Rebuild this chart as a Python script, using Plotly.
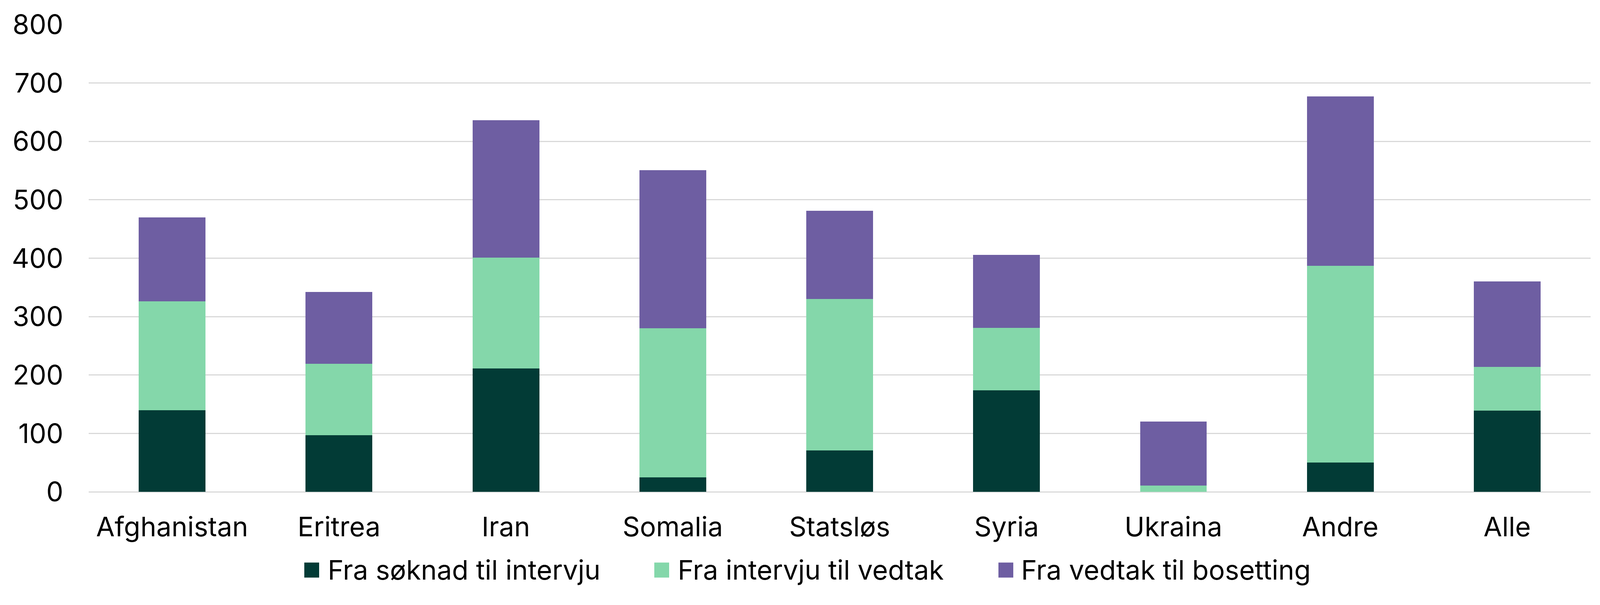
import plotly.graph_objects as go

categories = ["Afghanistan", "Eritrea", "Iran", "Somalia", "Statsløs", "Syria", "Ukraina", "Andre", "Alle"]
series_names = ["Fra søknad til intervju", "Fra intervju til vedtak", "Fra vedtak til bosetting"]
soknad_intervju = [140, 97, 211, 25, 71, 174, 0, 50, 139]
intervju_vedtak = [186, 122, 190, 255, 259, 107, 11, 337, 75]
vedtak_bosetting = [144, 123, 235, 271, 151, 125, 109, 290, 146]
colors = ["#023b36", "#84d7aa", "#6e5ea2"]
y_ticks = [0, 100, 200, 300, 400, 500, 600, 700, 800]

# The browser viewport is 4096 px wide (with an 8 px body margin), so the
# figure is sized to fit inside it.
W, H = 4080, 1534
L, R, T, B = 219, 16, 46, 282
FONT = "Inter"
FS = 69

fig = go.Figure()
for name, vals, col in zip(series_names, [soknad_intervju, intervju_vedtak, vedtak_bosetting], colors):
    fig.add_trace(go.Bar(x=categories, y=vals, name=name, marker=dict(color=col, line=dict(width=0))))

# manual legend with large square symbols (as in the reference)
pw, ph = W - L - R, H - T - B
def px_x(px):
    return (px - L) / pw
def px_y(py):
    return (H - B - py) / ph

sq_x = [771, 1667, 2548]
txt_x = [829, 1725, 2604]
cy, sw, sh = 1454, 38, 39
shapes = []
annotations = []
for i, name in enumerate(series_names):
    shapes.append(dict(type="rect", xref="paper", yref="paper",
                       x0=px_x(sq_x[i]), x1=px_x(sq_x[i] + sw),
                       y0=px_y(cy + sh / 2), y1=px_y(cy - sh / 2),
                       fillcolor=colors[i], line=dict(width=0)))
    annotations.append(dict(xref="paper", yref="paper", x=px_x(txt_x[i]), y=px_y(cy),
                            xanchor="left", yanchor="middle", showarrow=False,
                            text=name, font=dict(family=FONT, size=FS, color="#000000")))

fig.update_layout(
    width=W, height=H,
    barmode="stack", bargap=0.6,
    plot_bgcolor="white", paper_bgcolor="white",
    margin=dict(l=L, r=R, t=T, b=B),
    showlegend=False,
    font=dict(family=FONT, size=FS, color="#000000"),
    shapes=shapes, annotations=annotations,
    xaxis=dict(range=[-0.5, 8.5], showgrid=False, showline=False, ticks="", ticklabelstandoff=44,
               tickfont=dict(family=FONT, size=FS, color="#000000")),
    yaxis=dict(range=[0, 800], tickvals=y_ticks, showgrid=True, gridcolor="#d9d9d9", gridwidth=2.5,
               zeroline=True, zerolinecolor="#d9d9d9", zerolinewidth=2.5, showline=False, ticks="",
               ticklabelstandoff=64, tickfont=dict(family=FONT, size=FS, color="#000000")),
)

fig.write_html("out.html")
